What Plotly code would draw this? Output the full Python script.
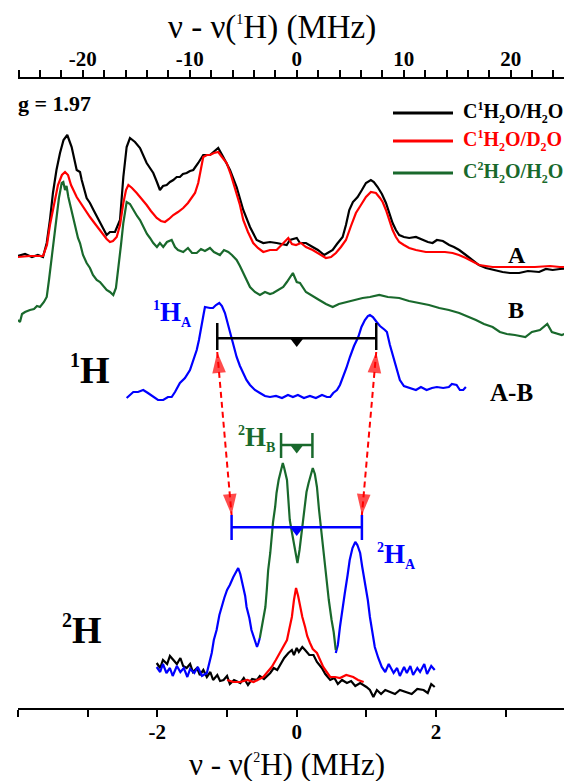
import plotly.graph_objects as go

# ---------------- constants ----------------
RATIO = 6.514            # gamma(1H)/gamma(2H): links the two frequency axes
X2H_RANGE = [-4.0, 3.95] # lower axis, nu - nu(2H) in MHz
X1H_RANGE = [X2H_RANGE[0] * RATIO, X2H_RANGE[1] * RATIO]

# ---------------- data (arbitrary stacked intensity) ----------------
# 1H ENDOR, upper axis (MHz)
A_black = [(-26.06,454),(-25.4,456),(-24.75,453),(-24.2,455),(-23.72,453),(-23.37,467),(-23.07,490),(-22.79,517),(-22.46,540),(-22.13,557),(-21.8,570),(-21.45,575),(-21.04,563),(-20.57,540),(-20.26,538),(-20.1,530),(-19.64,512),(-19.33,507),(-19.0,500),(-18.39,487),(-18.1,482),(-17.77,475),(-17.46,478),(-16.99,478),(-16.52,490),(-16.21,533),(-15.9,563),(-15.59,572),(-15.12,568),(-14.65,562),(-14.03,547),(-13.72,542),(-13.41,537),(-13.07,528),(-12.79,520),(-12.5,524),(-12.16,525),(-11.85,528),(-11.54,530),(-11.22,533),(-10.92,533),(-10.64,536),(-10.29,537),(-9.98,539),(-9.67,540),(-9.21,547),(-8.74,555),(-8.11,555),(-7.74,558),(-7.34,562),(-6.87,553),(-6.24,540),(-5.62,523),(-5.0,500),(-4.37,483),(-3.75,470),(-3.13,467),(-2.5,468),(-1.88,467),(-1.29,466),(-0.94,465),(-0.64,470),(0.0,472),(0.3,467),(0.86,467),(1.49,463),(1.98,460),(2.57,455),(2.92,457),(3.36,460),(3.76,466),(4.29,473),(4.6,485),(4.91,500),(5.25,508),(5.69,513),(6.09,520),(6.47,527),(6.93,530),(7.21,528),(7.56,523),(7.96,516),(8.34,507),(8.62,497),(8.96,487),(9.27,480),(9.58,475),(10.02,473),(10.51,472),(11.14,473),(11.77,470),(12.26,468),(12.7,467),(13.1,470),(13.66,469),(14.25,465),(14.69,463),(15.19,460),(15.81,455),(16.44,450),(17.03,445),(17.68,442),(18.43,440),(19.24,438),(19.93,437),(20.79,437),(21.61,439),(22.66,438),(23.29,441),(23.92,440),(24.6,441),(25.72,442)]
A_red = [(-26.06,453),(-24.94,454),(-23.72,454),(-23.35,465),(-23.07,485),(-22.69,505),(-22.32,525),(-21.95,535),(-21.66,538),(-21.38,535),(-21.1,525),(-20.57,513),(-19.98,503),(-19.33,493),(-18.77,485),(-18.08,475),(-17.77,471),(-17.46,468),(-17.18,469),(-16.83,473),(-16.52,485),(-16.21,507),(-15.96,520),(-15.74,525),(-15.4,522),(-14.96,517),(-14.56,512),(-14.03,505),(-13.63,499),(-13.09,492),(-12.69,489),(-12.32,488),(-11.94,491),(-11.54,495),(-11.1,498),(-10.61,502),(-10.17,507),(-9.82,512),(-9.51,517),(-9.21,527),(-8.95,542),(-8.74,553),(-8.39,555),(-8.11,555),(-7.74,557),(-7.34,558),(-6.99,553),(-6.55,547),(-6.15,535),(-5.62,517),(-5.31,505),(-5.0,490),(-4.56,478),(-4.07,467),(-3.63,462),(-3.13,458),(-2.5,460),(-1.88,460),(-1.38,466),(-0.79,472),(-0.45,466),(-0.07,465),(0.39,467),(0.86,463),(1.49,460),(2.07,456),(2.73,452),(3.2,453),(3.66,457),(4.13,463),(4.6,470),(5.07,484),(5.53,497),(6.0,505),(6.47,513),(6.93,518),(7.4,517),(7.78,512),(8.03,508),(8.34,500),(8.62,490),(8.96,480),(9.27,473),(9.58,468),(10.02,465),(10.51,462),(11.14,460),(12.07,458),(13.01,458),(13.85,458),(14.57,457),(15.16,455),(15.81,452),(16.47,448),(17.06,445),(17.68,444),(18.31,443),(19.46,443),(20.86,443),(22.26,443),(23.67,444),(24.6,443),(25.72,443)]
B_green = [(-26.06,390),(-25.87,388),(-25.68,396),(-25.4,398),(-24.94,400),(-24.56,401),(-24.28,404),(-24.0,403),(-23.63,408),(-23.37,413),(-23.16,430),(-22.91,453),(-22.69,475),(-22.44,493),(-22.23,512),(-21.97,527),(-21.82,528),(-21.66,520),(-21.52,524),(-21.35,513),(-21.1,502),(-20.89,493),(-20.64,480),(-20.45,472),(-20.26,467),(-19.98,455),(-19.64,447),(-19.33,442),(-19.05,435),(-18.7,430),(-18.39,428),(-18.11,424),(-17.77,420),(-17.46,418),(-17.15,415),(-16.9,422),(-16.68,440),(-16.43,465),(-16.21,487),(-15.9,508),(-15.59,506),(-15.28,500),(-14.93,494),(-14.65,490),(-14.35,483),(-14.0,476),(-13.72,472),(-13.41,467),(-13.07,463),(-12.79,467),(-12.48,463),(-12.13,468),(-11.69,470),(-11.38,463),(-11.1,460),(-10.61,458),(-10.17,462),(-9.79,457),(-9.35,457),(-8.95,461),(-8.58,459),(-8.11,462),(-7.74,458),(-7.18,455),(-6.8,460),(-6.4,458),(-6.06,455),(-5.62,450),(-5.31,444),(-5.0,437),(-4.65,429),(-4.37,423),(-3.91,418),(-3.44,415),(-2.97,418),(-2.5,416),(-2.2,417),(-1.76,420),(-1.26,423),(-0.92,428),(-0.64,433),(-0.36,437),(0.0,428),(0.3,427),(0.86,418),(1.42,414),(2.1,410),(2.73,406),(3.36,403),(3.94,406),(4.6,408),(5.35,410),(6.16,412),(6.84,413),(7.71,415),(8.52,413),(9.58,412),(10.49,409),(11.45,407),(12.36,405),(13.32,402),(14.22,400),(15.19,397),(15.91,394),(16.75,390),(17.5,386),(18.31,383),(18.99,378),(19.64,376),(20.39,375),(21.37,373),(21.98,378),(22.73,380),(23.42,386),(23.85,378),(24.78,375),(25.72,379)]
AB_blue = [(-15.9,312),(-15.28,318),(-14.84,318),(-14.35,320),(-13.91,317),(-13.41,313),(-12.97,310),(-12.48,310),(-12.04,313),(-11.69,313),(-11.38,318),(-10.92,327),(-10.45,332),(-9.98,340),(-9.7,348),(-9.35,360),(-9.14,370),(-8.89,383),(-8.72,395),(-8.58,403),(-8.3,402),(-8.11,402),(-7.83,402),(-7.55,405),(-7.24,407),(-6.99,404),(-6.71,397),(-6.48,388),(-6.24,377),(-5.96,365),(-5.62,353),(-5.31,344),(-5.0,337),(-4.7,330),(-4.37,325),(-3.91,320),(-3.44,317),(-2.97,314),(-2.5,313),(-1.94,314),(-1.38,312),(-0.82,315),(-0.36,313),(0.11,315),(0.67,312),(1.23,314),(1.79,312),(2.36,315),(2.82,313),(3.13,313),(3.41,317),(3.76,320),(4.04,325),(4.35,333),(4.64,342),(4.97,353),(5.35,364),(5.75,373),(6.05,383),(6.37,390),(6.65,394),(6.84,395),(7.12,393),(7.47,388),(7.78,384),(8.24,380),(8.43,378),(8.71,365),(9.02,353),(9.32,340),(9.64,330),(10.02,324),(10.58,322),(11.14,320),(11.61,323),(12.14,320),(12.64,322),(13.1,323),(13.69,322),(14.22,323),(14.5,326),(14.94,325),(15.25,320),(15.56,320),(15.81,323)]

# 2H ENDOR, lower axis (MHz)
H2_black = [(-2.01,47),(-1.96,42),(-1.92,50),(-1.86,46),(-1.82,54),(-1.77,50),(-1.72,46),(-1.67,52),(-1.63,44),(-1.58,42),(-1.53,46),(-1.49,38),(-1.43,42),(-1.39,35),(-1.34,40),(-1.29,33),(-1.24,38),(-1.2,30),(-1.14,35),(-1.1,29),(-1.05,30),(-1.0,34),(-0.96,26),(-0.9,30),(-0.81,27),(-0.76,32),(-0.7,25),(-0.64,31),(-0.57,30),(-0.53,34),(-0.47,31),(-0.38,37),(-0.33,42),(-0.28,40),(-0.24,45),(-0.18,52),(-0.12,57),(-0.07,60),(-0.04,55),(0.0,62),(0.03,58),(0.08,63),(0.12,60),(0.18,55),(0.24,55),(0.29,48),(0.36,42),(0.41,36),(0.48,30),(0.54,32),(0.59,26),(0.65,30),(0.72,27),(0.78,29),(0.84,24),(0.91,27),(1.0,23),(1.05,20),(1.1,13),(1.15,20),(1.21,16),(1.27,20),(1.34,18),(1.41,16),(1.48,20),(1.58,18),(1.65,16),(1.73,21),(1.82,20),(1.88,17),(1.93,26),(1.98,23)]
H2_red = [(-1.0,30),(-0.91,28),(-0.81,28),(-0.71,30),(-0.62,28),(-0.56,30),(-0.48,33),(-0.42,38),(-0.36,43),(-0.3,50),(-0.24,57),(-0.19,64),(-0.14,70),(-0.11,80),(-0.07,93),(-0.04,110),(-0.01,122),(0.02,114),(0.05,103),(0.08,93),(0.12,83),(0.15,74),(0.19,67),(0.23,61),(0.29,57),(0.33,50),(0.38,43),(0.43,38),(0.48,33),(0.55,33),(0.62,32),(0.71,35),(0.81,33),(0.88,30),(0.96,28)]
H2_blue_left = [(-2.01,43),(-1.96,38),(-1.92,46),(-1.87,37),(-1.82,42),(-1.78,34),(-1.72,44),(-1.67,38),(-1.62,42),(-1.57,33),(-1.53,41),(-1.47,37),(-1.42,43),(-1.36,34),(-1.29,37),(-1.26,46),(-1.22,57),(-1.19,70),(-1.15,80),(-1.11,95),(-1.08,103),(-1.04,112),(-1.0,120),(-0.96,125),(-0.91,133),(-0.87,138),(-0.84,142),(-0.81,136),(-0.77,123),(-0.74,114),(-0.72,103),(-0.68,92),(-0.65,80),(-0.61,72),(-0.57,63),(-0.55,67),(-0.53,72)]
H2_blue_right = [(0.56,57),(0.59,65),(0.62,83),(0.66,100),(0.69,117),(0.73,135),(0.76,150),(0.8,162),(0.84,168),(0.87,165),(0.91,157),(0.94,143),(0.98,127),(1.02,110),(1.05,93),(1.09,78),(1.12,63),(1.17,52),(1.22,43),(1.27,38),(1.32,46),(1.39,37),(1.44,42),(1.48,34),(1.54,43),(1.58,37),(1.63,44),(1.67,35),(1.73,42),(1.77,38),(1.83,46),(1.87,36),(1.93,44),(1.98,40)]
H2_green = [(-0.53,72),(-0.49,88),(-0.45,103),(-0.43,120),(-0.41,140),(-0.38,157),(-0.36,173),(-0.34,188),(-0.31,203),(-0.29,217),(-0.26,230),(-0.23,240),(-0.2,247),(-0.18,242),(-0.14,230),(-0.12,210),(-0.1,190),(-0.07,178),(-0.05,170),(-0.02,158),(0.01,147),(0.04,160),(0.07,177),(0.09,192),(0.12,207),(0.14,218),(0.17,227),(0.2,236),(0.23,242),(0.26,236),(0.29,223),(0.32,200),(0.36,173),(0.39,152),(0.43,130),(0.46,110),(0.5,90),(0.53,78),(0.56,60)]

# hyperfine splittings (MHz)
A_1H = 14.86   # 1H_A doublet
A_2H = 1.87    # 2H_A doublet
B_2H = 0.45    # 2H_B doublet

# tick labels
TOP_TICKS = list(range(-26, 26, 2))
TOP_LABELS = {-20: "-20", -10: "-10", 0: "0", 10: "10", 20: "20"}
BOT_TICKS = list(range(-4, 4))
BOT_LABELS = {-2: "-2", 0: "0", 2: "2"}

# ---------------- styling / layout constants ----------------
PAGE_OFF = 8                     # default page margin around the figure
W, H = 572 - PAGE_OFF, 781 - PAGE_OFF
ML, MR, MT, MB = 10, 0, 71, 73
Y_RANGE = [2, 631]
BLACK, RED, GREEN, BLUE = "#000000", "#ff0000", "#19692c", "#0000ff"
FONT = "Liberation Serif"

def unzip(pts):
    return [p[0] for p in pts], [p[1] for p in pts]

def px(xs):   # screen pixel x -> paper
    return (xs - PAGE_OFF - ML) / (W - ML - MR)

def py(ys):   # screen pixel y -> paper
    return (H - MB - (ys - PAGE_OFF)) / (H - MT - MB)

def sup(t, s):
    return f'<sup><span style="font-size:{s}px">{t}</span></sup>'

def sub(t, s):
    return f'<sub><span style="font-size:{s}px">{t}</span></sub>'

fig = go.Figure()

def spec(pts, color, axis):
    x, y = unzip(pts)
    fig.add_trace(go.Scatter(x=x, y=y, mode="lines", xaxis=axis, yaxis="y",
                             line=dict(color=color, width=2.2), hoverinfo="skip"))

# upper (1H) spectra
spec(A_black, BLACK, "x2")
spec(A_red, RED, "x2")
spec(B_green, GREEN, "x2")
spec(AB_blue, BLUE, "x2")

# lower (2H) spectra
spec(H2_black, BLACK, "x")
spec(H2_red, RED, "x")
xb1, yb1 = unzip(H2_blue_left)
xb2, yb2 = unzip(H2_blue_right)
fig.add_trace(go.Scatter(x=xb1 + [None] + xb2, y=yb1 + [None] + yb2, mode="lines",
                         line=dict(color=BLUE, width=2.2), hoverinfo="skip"))
spec(H2_green, GREEN, "x")

# splitting bars
def bar(split, ylev, tick_lo, tick_hi, tri_y, color, axis):
    h = split / 2
    fig.add_trace(go.Scatter(x=[-h, h, None, -h, -h, None, h, h],
                             y=[ylev, ylev, None, tick_lo, tick_hi, None, tick_lo, tick_hi],
                             mode="lines", xaxis=axis, line=dict(color=color, width=2.5),
                             hoverinfo="skip"))
    fig.add_trace(go.Scatter(x=[0], y=[tri_y], mode="markers", xaxis=axis,
                             marker=dict(symbol="triangle-down", size=11, color=color),
                             hoverinfo="skip"))

bar(A_1H, 371.7, 360, 387, 368.5, BLACK, "x2")
bar(A_2H, 182.7, 170, 195, 179.5, BLUE, "x")
bar(B_2H, 265, 252, 277, 262, GREEN, "x")

# red double-headed dashed arrows linking the 1H and 2H doublets (drawn on the 1H axis)
ARROW_TOP, ARROW_BOT = 358, 195
for s in (-1, 1):
    xt = s * A_1H / 2
    xb = s * A_2H / 2 * RATIO
    fig.add_trace(go.Scatter(x=[xt, xb], y=[ARROW_TOP, ARROW_BOT], mode="lines", xaxis="x2",
                             line=dict(color=RED, width=2, dash="6px,4px"), hoverinfo="skip"))
    fig.add_trace(go.Scatter(x=[xt, xb, xt], y=[ARROW_TOP, ARROW_BOT, ARROW_TOP], mode="markers",
                             xaxis="x2",
                             marker=dict(symbol="arrow", angleref="previous", size=[0, 22, 22],
                                         color=RED, line=dict(width=0)),
                             hoverinfo="skip"))

# legend samples
for yy, col in ((113, BLACK), (141, RED), (173, GREEN)):
    fig.add_shape(type="line", xref="paper", yref="paper", x0=px(393), x1=px(453),
                  y0=py(yy), y1=py(yy), line=dict(color=col, width=3))

ann = []
def text(t, xs, ys, size, color=BLACK, bold=True, xanchor="center"):
    ann.append(dict(text=(f"<b>{t}</b>" if bold else t), x=px(xs), y=py(ys), xref="paper",
                    yref="paper", showarrow=False, xanchor=xanchor, yanchor="middle",
                    font=dict(family=FONT, size=size, color=color)))

text(f"ν - ν({sup('1', 14)}H) (MHz)", 272, 28, 33, bold=False)
text(f"ν - ν({sup('2', 14)}H) (MHz)", 287, 764, 31, bold=False)
text("g = 1.97", 16, 104, 22, xanchor="left")
text(f"C{sup('1', 12)}H{sub('2', 12)}O/H{sub('2', 12)}O", 461, 112, 20, BLACK, xanchor="left")
text(f"C{sup('1', 12)}H{sub('2', 12)}O/D{sub('2', 12)}O", 461, 140, 20, RED, xanchor="left")
text(f"C{sup('2', 12)}H{sub('2', 12)}O/H{sub('2', 12)}O", 461, 172, 20, GREEN, xanchor="left")
text("A", 517, 255, 24)
text("B", 516, 310, 24)
text("A-B", 511, 392, 25)
text(f"{sup('1', 20)}H", 90, 370, 38)
text(f"{sup('2', 20)}H", 82, 630, 38)
text(f"{sup('1', 14)}H{sub('A', 14)}", 172, 313, 27, BLUE)
text(f"{sup('2', 14)}H{sub('B', 14)}", 256, 438, 27, GREEN)
text(f"{sup('2', 14)}H{sub('A', 14)}", 396, 555, 27, BLUE)

axis_common = dict(showline=True, linecolor=BLACK, linewidth=2, ticks="outside", ticklen=7,
                   tickwidth=2, tickcolor=BLACK, showgrid=False, zeroline=False,
                   tickfont=dict(family=FONT, size=21, color=BLACK), fixedrange=True)

fig.update_layout(
    width=W, height=H, margin=dict(l=ML, r=MR, t=MT, b=MB),
    paper_bgcolor="white", plot_bgcolor="white", showlegend=False,
    font=dict(family=FONT, color=BLACK),
    xaxis=dict(range=X2H_RANGE, side="bottom", anchor="y", tickmode="array",
               tickvals=BOT_TICKS, ticktext=[f"<b>{BOT_LABELS[v]}</b>" if v in BOT_LABELS else "" for v in BOT_TICKS],
               ticklabelstandoff=-3, **axis_common),
    xaxis2=dict(range=X1H_RANGE, side="top", overlaying="x", anchor="y", tickmode="array",
                tickvals=TOP_TICKS, ticktext=[f"<b>{TOP_LABELS[v]}</b>" if v in TOP_LABELS else "" for v in TOP_TICKS],
                ticklabelstandoff=-4, **axis_common),
    yaxis=dict(range=Y_RANGE, visible=False, fixedrange=True),
    annotations=ann,
)

fig.write_html("out.html")
